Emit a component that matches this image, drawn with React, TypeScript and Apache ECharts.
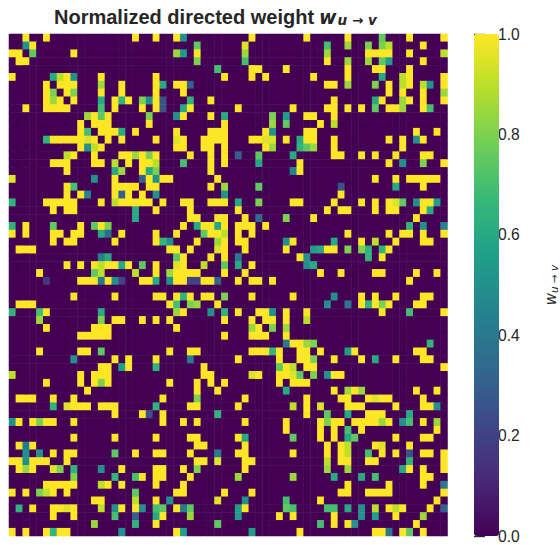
import React, { useEffect, useRef } from "react";
import * as echarts from "echarts";

// Sparse matrix rows: "col" means weight 1, "col:w" means weight w; other cells are 0.
const rowsA: string[] = [
  "2 5 18 21 24 25:.5 35 43 49 54:.75 58 63",
  "2:.5 3 27:.75 34:.95 46:.7 49:.85 52:.8 54:.8 55:.9 60",
  "0 1 3:.75 9 24:.85 25:.55 27 34:.85 46:.85 52 53 54 55 58 63:.9",
  "1 2 27:.8 34:.7 46 49:.85 52:.85 54:.75 55:.55 60",
  "30:.7 35 36 40 49 53 54 58",
  "0 6:.6 7:.9 8 9:.5 13 21 31 35 37 44 49 54:.6 57:.9 58 63",
  "5 7 8 9 13:.85 16 21 22:.6 24 25 26:.3 46 47 49:.85 53:.8 55 57:.9 58 60:.9 61:.5 63",
  "5 6:.8 8 9:.8 13 16 21 25 55 57 60 63:.85",
  "5 6:.85 7 9 13:.6 15 16:.65 17 19:.8 20:.5 21 22:.25 26:.65 29 47 53:.6 54 57:.85 58 60 63",
  "2 5 6 7 8 13:.7 15 19 21 22:.25 25:.6 26 33 41 46 47 49 51 53:.75 55 56 57:.85 60 61:.7",
  "11:.85 12 13:.75 14 20:.8 24:.5 25 29 31:.6 38:.8 40:.55 43 44 47",
  "10 12 13 14 20 31 38:.85 40:.75 45 47:.9",
  "10 11:.7 13 14 15 16:.6 18 24 29 30 31 37 38:.5 43 44 59 62",
  "5:.65 6 7 8 9 10 11:.95 12 14 16 21 24:.95 25 28 29 30 31 35 36 37:.95 38:.95 40 42:.6 43 44 47 55 57 59:.5 60",
  "10 11:.5 12:.9 13 24 25 28 29 31 37 38:.85 42:.65 43:.75 44:.85 47 57",
  "8:.9 9 12 16 17 18:.85 19 20:.8 21 26 29 31 33:.3 36:.75 41:.6 47 48 51 53 56 60 61",
];
const rowsB: string[] = [
  "6 7 8 12 13 15:.9 17 19 20 21:.9 25:.7 29 31 36:.6 42 55 57:.5 60:.8 63",
  "8 15:.6 16:.85 19 20:.6 21:.8 29 41:.45 42",
  "0:.95 12:.5 15 19:.3 20 21:.5 22 23 30 53 56 58 59 60 61 62",
  "8 9:.7 15 16 17 18 20 21 29 31:.85 36:.75 48:.25 56:.6 60",
  "8 10 11:.45 15 16:.3 17 19 21:.5 31:.5 48",
  "0:.65 5 6 7 8 9 13 15:.9 16 17 18 19 20 22 25 26 29 30 31 33:.6 36:.8 41 42 47 51 53 55 56:.95 57:.75 59:.5 60 61 62:.55",
  "6 8 9 18:.6 21 26 33 46 48 49 53 55 56 60 61:.6",
  "18:.6 26 27 30 31 34 36:.35 40:.8 44 59",
  "0:.65 2 6:.75 10 12:.75 13 14:.8 25 27:.6 28 29 30:.6 31 33 34 35 37 58:.65 60:.5 63:.45",
  "0 2 6 7 9 10 13:.6 14:.35 16 21 24 28:.75 29 30 31:.9 33 35 49 55 57 58 60 63",
  "6 8 9 15 21 22:.65 23:.5 27 30:.85 31 33 34 40:.5 41 47:.6 51 53:.9 56 60 61",
  "1 2 3 23 24 26 30:.95 31 34 40 44:.55 45:.6 46 47 49:.8 51:.8 52:.65 54:.65 55",
  "13:.45 14:.6 24:.75 25 29 31 33:.4 42 43:.5 52:.65 54",
  "8 10 12 13:.9 14 15 16:.6 17 19:.75 21 24:.95 25 28:.9 31:.75 33:.6 35 43:.5 44:.6",
  "4 12:.75 13:.9 18:.9 21 23:.85 24 25 26 27 31 34 45 48 53 54 59 62",
  "5:.15 10 11 12 13:.4 14 15:.5 16:.2 19 20 21:.6 23:.5 24 25 26:.2 27:.2 28 29 30:.3 33 35 36 38 58",
];
const rowsC: string[] = [
  "",
  "9 15 21 22 24 25:.65 26 28 29 31:.8 35 41 47:.5 51 53 56 60 61",
  "1 2 3 23 24:.7 26:.8 27:.85 30 46:.5 49:.4 51 52:.65 53 54:.8 55 59 60",
  "0:.65 4:.7 5 13:.6 24:.85 25 29:.5 31:.65 33 36 37 38:.5 40 43 54 58:.7 63",
  "4:.85 13:.8 15 16 19 21 23 31 35 37 38 40 43:.9",
  "5 12 13 14 24 35:.85 36 38:.8 40:.85",
  "10 11 12 13 14 31 35 36 37 40",
  "40:.4 41 42 43:.85 44:.8 61:.65",
  "4 10 11 13:.75 23 26 27 35 36 37 38:.65 39 42 43 45 49:.55 50 59 60",
  "9:.5 15 17 21 26:.4 33 39 42 43 44:.8 47 51 53:.6 56 60 61",
  "13 14 16:.55 17 21:.65 28 39:.75 40 41:.9 43 44 63",
  "0:.9 10 12 13 14 28 29 35:.95 36 39 40 41:.95 42:.75 44:.8 46:.5 47 48",
  "5 10 12 13:.8 14 23 27 29 31 39 41 42 43",
  "11 27 30 40:.6 47 49:.85 50 51:.85 59 62",
  "1 2 3 6 9 22 27:.8 34 43 48 49 52 53:.95 54 55 60",
  "6:.65 8:.95 9 10 11 13 14 15 21:.65 26 27 33 41:.9 43 45:.95 49 50 51 56 60 61 62:.5",
];
const rowsD: string[] = [
  "15 19 20:.25 22 30:.65 43 46:.75 49:.6 52 53 54 58:.6",
  "0:.5 1 3 4:.8 5 6 9 22 25 27 34 40 45 46:.8 47 48 50 51 52 53 54:.85 55 57:.5 58:.7 60 62:.85",
  "40 45 47 49:.7 51 62",
  "9 15 21 26 27 33 34:.6 41:.75 45 47 49:.6 50:.75 56 60 61",
  "1 2:.4 3 27 28 34 46 48 49:.9 53 54:.95 58",
  "2:.5 4:.5 6 8 9 15:.75 18 21 22 26 30:.4 33 34 41 46 48 49:.9 52:.7 54 56 58:.25 60 61 63",
  "0 1 2:.5 3 4 5 8 27 28 30:.95 34 35 46:.9 48 49 52 53 58:.65 63",
  "1 2:.85 3 6:.95 7:.8 9:.65 13:.5 16 21 22 25 27:.8 34 46:.85 49:.85 57:.6 58 60 63",
  "9:.8 15:.65 18:.7 19 21 22 26 33:.85 41:.85 47:.6 51:.6 53:.7 60 61",
  "5 6 7 8 9 13:.9 14 16 21 25 49 55 60 63:.4",
  "0 2 4:.8 5:.9 6 8 18:.75 24 25 31 35 48 49 52 53 54 55 63",
  "12 13 18:.9 21 23:.5 30:.95 34:.5 40:.7 45 62",
  "1:.65 3 6 7 8:.95 9 13:.9 15:.5 16 18 19:.5 21:.7 22:.75 24 25:.4 26:.75 33:.55 34 40:.75 41:.7 46:.7 47:.7 49:.6 51:.5 53:.9 55 56:.9 57 61 63:.3",
  "6 9 15:.7 18:.3 21:.6 22 26:.85 33:.55 39 41 47 51:.5 53:.55 56 60:.85",
  "12:.85 18:.65 21 30:.75 45:.7 47 49 50:.5 59",
  "0 2 5 6:.65 7 8 16:.5 24 25:.55 35:.55 42 53 54 55:.4 57 58:.75 60",
];
const tickLabels: number[] = [0, 0.2, 0.4, 0.6, 0.8, 1];
const viridis: string[] = ["#440154", "#482878", "#3e4989", "#31688e", "#26828e", "#1f9e89", "#35b779", "#6ece58", "#b5de2b", "#fde725"];

const allRows = [...rowsA, ...rowsB, ...rowsC, ...rowsD];
const size = 64;
const indices = Array.from({ length: size }, (_, i) => i);
const cells: [number, number, number][] = [];
allRows.forEach((row, r) => {
  const filled = new Map<number, number>();
  row.split(" ").filter(Boolean).forEach((tok) => {
    const [c, w] = tok.split(":");
    filled.set(Number(c), w ? parseFloat(w) : 1);
  });
  indices.forEach((c) => cells.push([c, r, filled.get(c) ?? 0]));
});

export default function App() {
  const ref = useRef<HTMLDivElement>(null);
  useEffect(() => {
    const chart = echarts.init(ref.current!, undefined, { renderer: "svg" });
    chart.setOption({
      animation: false,
      backgroundColor: "#ffffff",
      title: {
        left: 54,
        top: 6,
        padding: 0,
        text: "{b|Normalized directed weight} {w|w}{s|u → v}",
        textStyle: {
          rich: {
            b: { fontFamily: "Liberation Sans", fontWeight: "bold", fontSize: 20, color: "#262626" },
            w: { fontFamily: "DejaVu Sans", fontStyle: "italic", fontSize: 19, color: "#262626" },
            s: { fontFamily: "DejaVu Sans", fontStyle: "italic", fontSize: 13.5, color: "#262626", padding: [7, 0, 0, 1] },
          },
        },
      },
      grid: [
        { left: 9, top: 34, width: 438.5, height: 502 },
        { left: 474, top: 34, width: 25, height: 502 },
      ],
      xAxis: [
        { type: "category", data: indices, show: false, gridIndex: 0 },
        { type: "value", show: false, gridIndex: 1, min: 0, max: 1 },
      ],
      yAxis: [
        { type: "category", data: indices, show: false, inverse: true, gridIndex: 0 },
        {
          type: "value",
          gridIndex: 1,
          position: "right",
          min: 0,
          max: 1,
          interval: 0.2,
          splitLine: { show: false },
          axisLine: { show: false },
          axisTick: { show: true, length: 11, lineStyle: { color: "#262626", width: 1.3 } },
          axisLabel: {
            margin: 6,
            fontFamily: "Liberation Sans",
            fontSize: 15.6,
            color: "#262626",
            formatter: (v: number) => (tickLabels.includes(Number(v.toFixed(1))) ? v.toFixed(1) : ""),
          },
          name: "{w|w}{s|u → v}",
          nameLocation: "middle",
          nameRotate: 90,
          nameGap: 51,
          nameTextStyle: {
            rich: {
              w: { fontFamily: "DejaVu Sans", fontStyle: "italic", fontSize: 15, color: "#262626" },
              s: { fontFamily: "DejaVu Sans", fontStyle: "italic", fontSize: 10.5, color: "#262626", padding: [5, 0, 0, 0] },
            },
          },
        },
      ],
      visualMap: {
        type: "continuous",
        min: 0,
        max: 1,
        seriesIndex: 0,
        calculable: false,
        hoverLink: false,
        left: 474,
        top: 34,
        padding: 0,
        itemWidth: 25,
        itemHeight: 502,
        text: undefined,
        inRange: { color: viridis },
      },
      series: [
        {
          type: "heatmap",
          xAxisIndex: 0,
          yAxisIndex: 0,
          data: cells,
          progressive: 0,
          itemStyle: { borderWidth: 0 },
          emphasis: { disabled: true },
        },
      ],
    });
    return () => chart.dispose();
  }, []);
  return <div ref={ref} style={{ position: "absolute", left: 0, top: 0, width: 560, height: 545 }} />;
}
